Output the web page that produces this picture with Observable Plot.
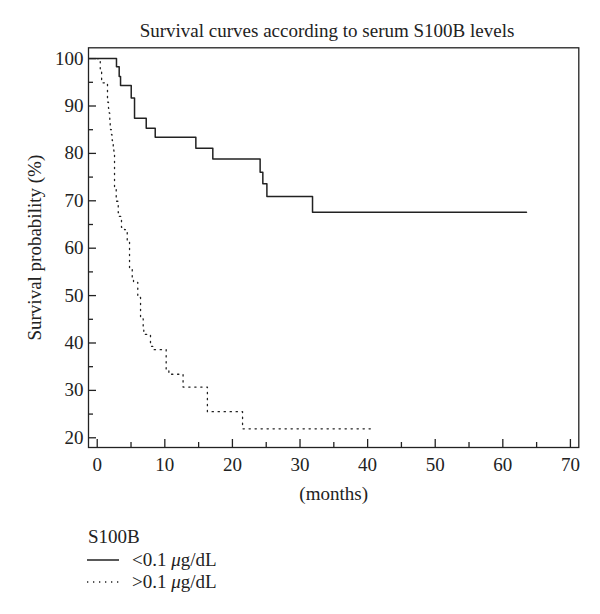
<!DOCTYPE html>
<html><head><meta charset="utf-8">
<script src="https://cdn.jsdelivr.net/npm/d3@7"></script>
<script src="https://cdn.jsdelivr.net/npm/@observablehq/plot@0.6"></script>
<style>
body{margin:0;background:#fff;font-family:"Liberation Serif","DejaVu Serif",serif;color:#222}
#wrap{position:relative;width:600px;height:614px;overflow:hidden}
#title{position:absolute;left:0;width:654px;top:21px;text-align:center;font-size:19px;line-height:1}
#chart{position:absolute;left:0;top:0}
#legend{position:absolute;left:88px;top:526px;font-size:19px;line-height:22.5px}
#legend .row{display:flex;align-items:center;height:22.5px}
#legend svg{display:block;margin-right:12px;margin-left:-1px}
</style></head><body>
<div id="wrap">
<div id="chart"></div>
<div id="title">Survival curves according to serum S100B levels</div>
<div id="legend">
  <div>S100B</div>
  <div class="row"><svg width="33" height="6"><line x1="0" y1="3" x2="32" y2="3" stroke="#222" stroke-width="1.5"/></svg><span>&lt;0.1 <i>μ</i>g/dL</span></div>
  <div class="row"><svg width="33" height="6"><line x1="0" y1="3" x2="32" y2="3" stroke="#222" stroke-width="1.3" stroke-dasharray="1.3 4.7"/></svg><span>&gt;0.1 <i>μ</i>g/dL</span></div>
</div>
</div>
<script>
// Series: <0.1 µg/dL (solid)
const lowTime = [-1.2, 2.85, 3.25, 3.45, 5.03, 5.52, 7.25, 8.58, 14.59, 17.1, 24.1, 24.5, 25.1, 31.85, 63.5];
const lowSurv = [100, 98.3, 96.2, 94.3, 91.7, 87.4, 85.3, 83.4, 81.1, 78.8, 76.0, 73.6, 70.9, 67.6, 67.6];
// Series: >0.1 µg/dL (dotted)
const highTime = [0, 0.45, 0.65, 1.52, 1.67, 1.78, 1.86, 1.92, 1.97, 2.12, 2.22, 2.37, 2.46, 2.56, 2.81, 3.11, 3.2, 3.59, 4.04, 4.44, 4.78, 5.18, 5.37, 6.0, 6.41, 6.8, 6.89, 7.88, 8.28, 10.2, 10.6, 12.7, 16.3, 21.5, 40.4];
const highSurv = [100, 97.5, 94.9, 90.8, 89.5, 88.5, 87.2, 86.0, 85.0, 83.9, 82.7, 81.5, 80.5, 72.4, 69.9, 67.5, 66.7, 64.4, 63.9, 61.6, 55.7, 53.4, 52.8, 49.6, 45.1, 42.9, 41.8, 39.3, 38.6, 34.2, 33.4, 30.7, 25.5, 21.9, 21.9];
// Ticks
const xTicks = [0, 10, 20, 30, 40, 50, 60, 70];
const xMinor = [5, 15, 25, 35, 45, 55, 65];
const yTicks = [20, 30, 40, 50, 60, 70, 80, 90, 100];
const yMinor = [25, 35, 45, 55, 65, 75, 85, 95];

const low = lowTime.map((t, i) => ({t, s: lowSurv[i]}));
const high = highTime.map((t, i) => ({t, s: highSurv[i]}));
const ink = "#222";
const font = "Liberation Serif, DejaVu Serif, serif";

const plot = Plot.plot({
  width: 600, height: 510,
  marginLeft: 88, marginRight: 21.7, marginTop: 47.3, marginBottom: 63,
  x: {domain: [-1.29, 71.24]},
  y: {domain: [17.95, 102.28]},
  style: {fontFamily: font, fontSize: "19px", color: ink, background: "transparent", overflow: "visible"},
  marks: [
    Plot.axisX({ticks: xTicks, tickSize: -8, tickPadding: 17.5, label: null, fontSize: 19, stroke: ink, strokeWidth: 1.3}),
    Plot.axisX({ticks: xMinor, tickSize: -5, tickFormat: () => "", label: null, stroke: ink, strokeWidth: 1.3}),
    Plot.axisY({ticks: yTicks, tickSize: -8, tickPadding: 13, label: null, fontSize: 19, stroke: ink, strokeWidth: 1.3}),
    Plot.axisY({ticks: yMinor, tickSize: -5, tickFormat: () => "", label: null, stroke: ink, strokeWidth: 1.3}),
    Plot.line(low, {x: "t", y: "s", curve: "step-after", stroke: ink, strokeWidth: 1.5}),
    Plot.line(high, {x: "t", y: "s", curve: "step-after", stroke: ink, strokeWidth: 1.3, strokeDasharray: "1.3 4.7"}),
    Plot.frame({stroke: ink, strokeWidth: 1.3}),
    Plot.text(["(months)"], {frameAnchor: "bottom", dy: 46, lineAnchor: "middle", textAnchor: "middle", fontSize: 19, fill: ink}),
    Plot.text(["Survival probability (%)"], {frameAnchor: "left", dx: -54, rotate: -90, lineAnchor: "middle", textAnchor: "middle", fontSize: 19, fill: ink})
  ]
});
document.getElementById("chart").appendChild(plot);
</script>
</body></html>
